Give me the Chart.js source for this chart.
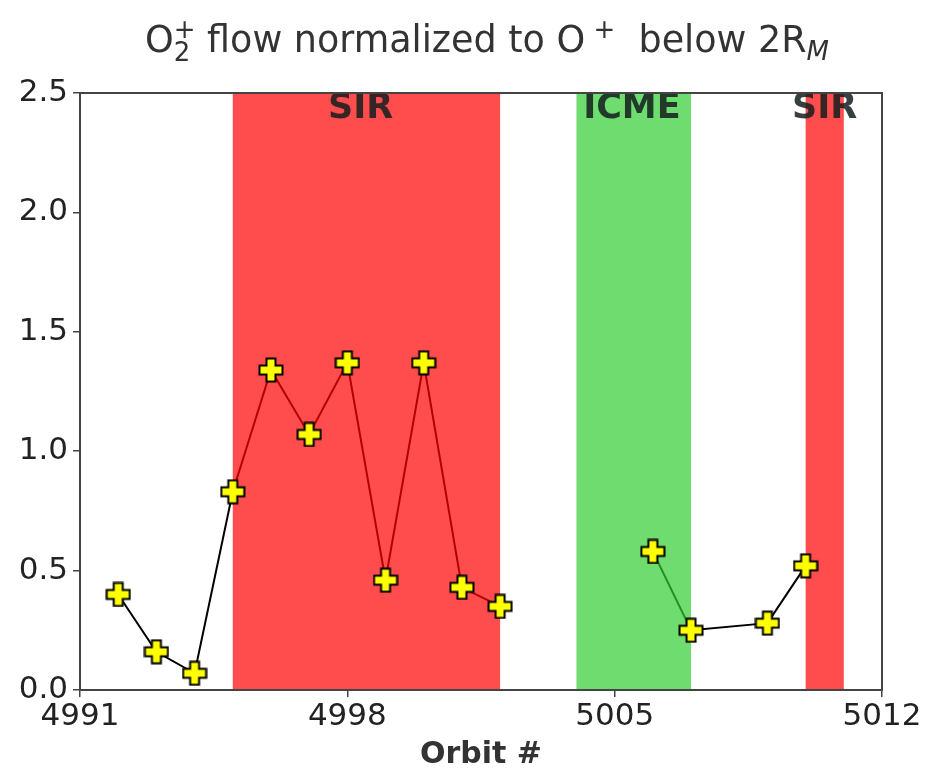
<!DOCTYPE html>
<html>
<head>
<meta charset="utf-8">
<script src="https://cdn.jsdelivr.net/npm/chart.js@4/dist/chart.umd.min.js"></script>
<style>
  html, body { margin: 0; padding: 0; background: #fff; }
  #wrap { width: 928px; height: 776px; }
</style>
</head>
<body>
<div id="wrap"><canvas id="chart" width="928" height="776"></canvas></div>
<script>
// values (null = gap in the line)
const orbits = [4992, 4993, 4994, 4995, 4996, 4997, 4998, 4999, 5000, 5001, 5002, 5004, 5006, 5007, 5009, 5010];
const ratios = [0.40, 0.16, 0.07, 0.83, 1.34, 1.07, 1.37, 0.46, 1.37, 0.43, 0.35, null, 0.58, 0.25, 0.28, 0.52];

// event intervals
const eventNames = ['SIR', 'ICME', 'SIR'];
const eventStart = [4995, 5004, 5010];
const eventEnd = [5002, 5007, 5011];
const eventLabelAt = [4998.35, 5005.45, 5010.5];
const eventColors = ['rgba(255,0,0,0.7)', 'rgba(50,205,50,0.7)', 'rgba(255,0,0,0.7)'];

const xTicks = [4991, 4998, 5005, 5012];
const yTicks = [0, 0.5, 1.0, 1.5, 2.0, 2.5];

const FONT = "'DejaVu Sans', sans-serif";

// filled plus marker (matplotlib 'P')
function plusMarker(size, arm) {
  const c = document.createElement('canvas');
  c.width = size; c.height = size;
  const g = c.getContext('2d');
  const m = size / 2, h = arm / 2, r = m - 1.5;
  g.beginPath();
  g.moveTo(m - h, m - r); g.lineTo(m + h, m - r); g.lineTo(m + h, m - h);
  g.lineTo(m + r, m - h); g.lineTo(m + r, m + h); g.lineTo(m + h, m + h);
  g.lineTo(m + h, m + r); g.lineTo(m - h, m + r); g.lineTo(m - h, m + h);
  g.lineTo(m - r, m + h); g.lineTo(m - r, m - h); g.lineTo(m - h, m - h);
  g.closePath();
  g.fillStyle = '#ffff00';
  g.fill();
  g.lineWidth = 2;
  g.strokeStyle = '#000';
  g.stroke();
  return c;
}

const points = orbits.map((o, i) => ({ x: o, y: ratios[i] }));

const eventPlugin = {
  id: 'events',
  beforeDatasetDraw(chart, args) {
    if (args.index !== 0) return;
    const { ctx, chartArea: a, scales: { x } } = chart;
    ctx.save();
    ctx.beginPath();
    ctx.rect(a.left, a.top, a.right - a.left, a.bottom - a.top);
    ctx.clip();
    eventStart.forEach((s, i) => {
      const x0 = x.getPixelForValue(s), x1 = x.getPixelForValue(eventEnd[i]);
      ctx.fillStyle = eventColors[i];
      ctx.fillRect(x0, a.top, x1 - x0, a.bottom - a.top);
    });
    ctx.restore();
    ctx.save();
    ctx.font = 'bold 35px ' + FONT;
    ctx.fillStyle = 'rgba(20,30,30,0.85)';
    ctx.textAlign = 'center';
    ctx.textBaseline = 'middle';
    eventNames.forEach((n, i) => {
      ctx.fillText(n, x.getPixelForValue(eventLabelAt[i]), a.top + 16);
    });
    ctx.restore();
  },
  afterDraw(chart) {
    const { ctx, chartArea: a } = chart;
    ctx.save();
    ctx.strokeStyle = '#444';
    ctx.lineWidth = 2;
    ctx.strokeRect(a.left, a.top, a.right - a.left, a.bottom - a.top);
    ctx.restore();

    // title with sub/superscripts
    const big = '36.5px ' + FONT, small = '26px ' + FONT, smallIt = 'italic 26px ' + FONT;
    const parts = [
      { t: 'O', f: big, dy: 0 },
      { t: '+', f: small, dy: -14, stackWith: { t: '2', dy: 9 } },
      { t: ' flow normalized to O', f: big, dy: 0 },
      { t: ' +', f: small, dy: -14 },
      { t: '  below 2R', f: big, dy: 0 },
      { t: 'M', f: smallIt, dy: 8 }
    ];
    let total = 0;
    parts.forEach(p => { ctx.font = p.f; p.w = ctx.measureText(p.t).width; total += p.w; });
    let cx = 487 - total / 2;
    const base = 52;
    ctx.save();
    ctx.fillStyle = '#333';
    ctx.textBaseline = 'alphabetic';
    ctx.textAlign = 'left';
    parts.forEach(p => {
      ctx.font = p.f;
      ctx.fillText(p.t, cx, base + p.dy);
      if (p.stackWith) ctx.fillText(p.stackWith.t, cx, base + p.stackWith.dy);
      cx += p.w;
    });
    ctx.restore();
  }
};

new Chart(document.getElementById('chart'), {
  type: 'line',
  data: {
    datasets: [
      {
        label: 'markers',
        data: points,
        showLine: false,
        pointStyle: plusMarker(26, 9),
        order: 0
      },
      {
        label: 'line',
        data: points,
        borderColor: '#000',
        borderWidth: 2,
        pointRadius: 0,
        spanGaps: false,
        fill: false,
        order: 1
      }
    ]
  },
  options: {
    responsive: false,
    animation: false,
    layout: { padding: { top: 93, left: 0, right: 46, bottom: 0 } },
    plugins: { legend: { display: false }, tooltip: { enabled: false }, title: { display: false } },
    scales: {
      x: {
        type: 'linear',
        min: 4991, max: 5012,
        afterBuildTicks: s => { s.ticks = xTicks.map(v => ({ value: v })); },
        afterFit: s => { s.height = 86; },
        ticks: { color: '#222', font: { family: FONT, size: 31 }, padding: 1, maxRotation: 0, callback: v => String(v) },
        grid: { drawOnChartArea: false, drawTicks: true, tickLength: 7, color: '#444', lineWidth: 1.5 },
        border: { display: true, color: '#444', width: 2 },
        title: { display: true, text: 'Orbit #', color: '#333', font: { family: FONT, size: 30, weight: 'bold' }, padding: { top: 0, bottom: 3 } }
      },
      y: {
        min: 0, max: 2.5,
        afterBuildTicks: s => { s.ticks = yTicks.map(v => ({ value: v })); },
        afterFit: s => { s.width = 80; },
        ticks: { color: '#222', font: { family: FONT, size: 31 }, padding: 5, callback: v => v.toFixed(1) },
        grid: { drawOnChartArea: false, drawTicks: true, tickLength: 7, color: '#444', lineWidth: 1.5 },
        border: { display: true, color: '#444', width: 2 }
      }
    }
  },
  plugins: [eventPlugin]
});
</script>
</body>
</html>
